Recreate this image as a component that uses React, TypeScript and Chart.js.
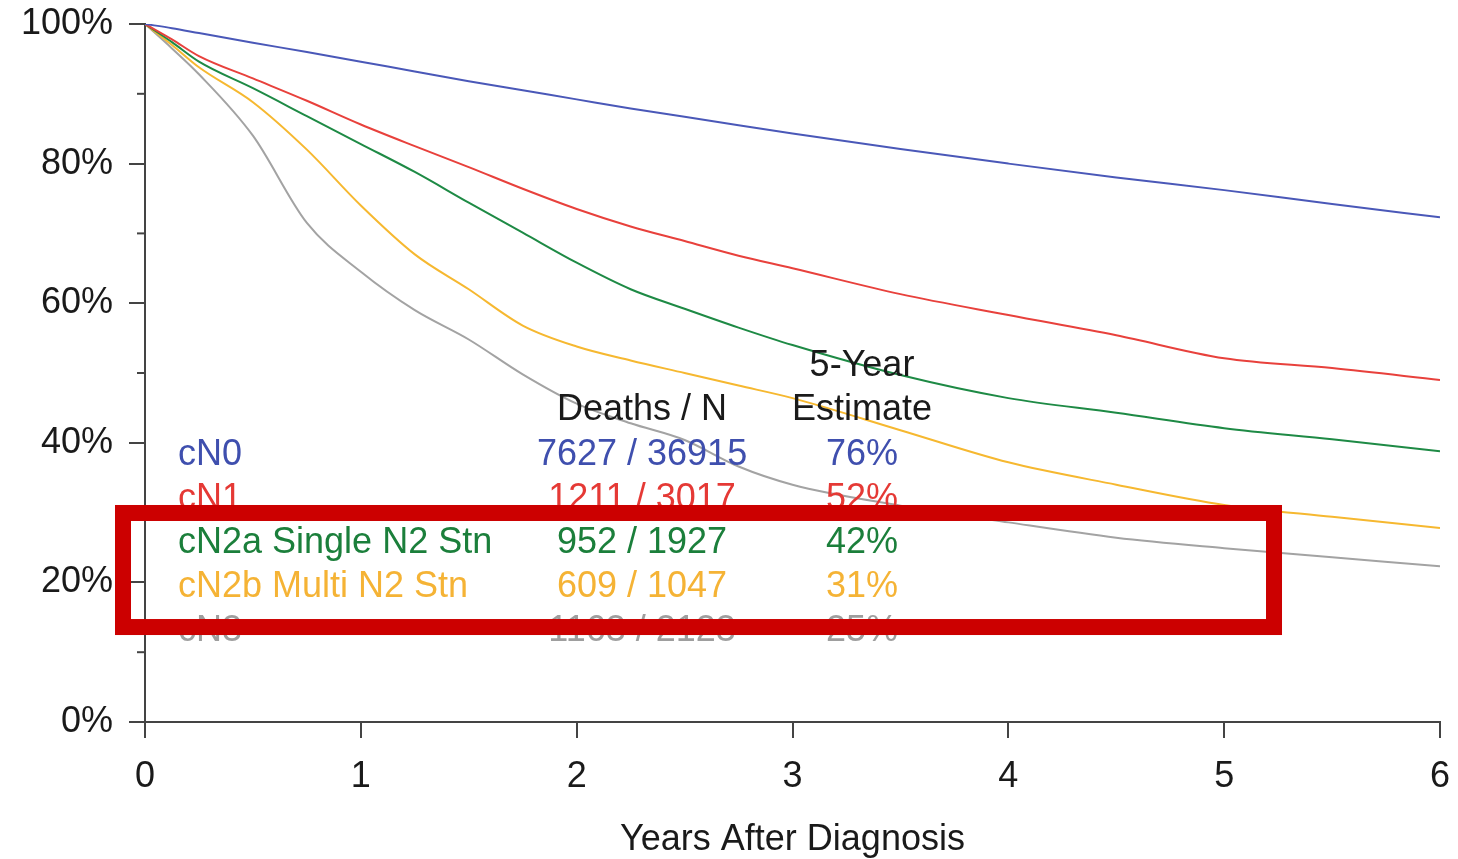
import { useEffect, useRef } from 'react';
import { Chart, registerables } from 'chart.js';

Chart.register(...registerables);

const years = [0, 0.125, 0.25, 0.5, 0.75, 1, 1.25, 1.5, 1.75, 2, 2.25, 2.5, 2.75, 3, 3.5, 4, 4.5, 5, 5.5, 6];
const cN0 = [100, 99.4, 98.7, 97.3, 96.0, 94.6, 93.2, 91.8, 90.5, 89.2, 87.9, 86.7, 85.5, 84.3, 82.1, 80.0, 78.0, 76.2, 74.2, 72.3];
const cN1 = [100, 97.8, 95.4, 92.2, 89.0, 85.6, 82.5, 79.5, 76.4, 73.5, 71.0, 68.9, 66.8, 65.0, 61.3, 58.3, 55.4, 52.1, 50.7, 49.0];
const cN2a = [100, 97.4, 94.6, 90.8, 86.8, 82.8, 78.8, 74.4, 70.1, 65.8, 62.0, 59.2, 56.5, 54.0, 49.7, 46.4, 44.3, 42.1, 40.5, 38.8];
const cN2b = [100, 97.0, 93.8, 88.8, 82.0, 74.0, 67.0, 62.0, 56.8, 53.8, 51.8, 50.0, 48.2, 46.4, 41.8, 37.2, 34.0, 31.1, 29.4, 27.8];
const cN3 = [100, 96.5, 92.8, 84.0, 71.5, 64.5, 59.0, 54.8, 49.8, 45.6, 42.8, 40.4, 36.6, 34.0, 31.0, 28.6, 26.4, 24.9, 23.6, 22.3];

const groupLabels = ['cN0', 'cN1', 'cN2a Single N2 Stn', 'cN2b Multi N2 Stn', 'cN3'];
const deathsN = ['7627 / 36915', '1211 / 3017', '952 / 1927', '609 / 1047', '1163 / 2123'];
const fiveYear = ['76%', '52%', '42%', '31%', '25%'];
const lineColors = ['#4a58b8', '#e8413c', '#1e8a45', '#f6b830', '#a3a3a3'];
const textColors = ['#3f4fae', '#e53935', '#1b7f3b', '#f5b335', '#9e9e9e'];

const yTickValues = [0, 20, 40, 60, 80, 100];
const yMinorTickValues = [10, 30, 50, 70, 90];
const xTickValues = [0, 1, 2, 3, 4, 5, 6];

const FONT = '"Liberation Sans", Arial, Helvetica, sans-serif';

const tablePlugin = {
  id: 'kmTable',
  afterDraw(chart: any) {
    const { ctx, scales } = chart;
    const xs = scales.x;
    const ys = scales.y;
    const yAxisX = chart.chartArea.left;

    // minor y ticks
    ctx.save();
    ctx.strokeStyle = '#444';
    ctx.lineWidth = 2;
    yMinorTickValues.forEach((v) => {
      const py = ys.getPixelForValue(v);
      ctx.beginPath();
      ctx.moveTo(yAxisX - 8, py);
      ctx.lineTo(yAxisX, py);
      ctx.stroke();
    });
    ctx.restore();

    // table text
    ctx.save();
    ctx.font = `36px ${FONT}`;
    ctx.textBaseline = 'middle';
    const labelX = xs.getPixelForValue(0.153);
    const deathsX = xs.getPixelForValue(2.303);
    const estX = xs.getPixelForValue(3.322);
    ctx.fillStyle = '#1a1a1a';
    ctx.textAlign = 'center';
    ctx.fillText('5-Year', estX, ys.getPixelForValue(51.0));
    ctx.fillText('Estimate', estX, ys.getPixelForValue(44.7));
    ctx.fillText('Deaths / N', deathsX, ys.getPixelForValue(44.7));
    groupLabels.forEach((lab, i) => {
      const py = ys.getPixelForValue(38.25 - i * 6.3);
      ctx.fillStyle = textColors[i];
      ctx.textAlign = 'left';
      ctx.fillText(lab, labelX, py);
      ctx.textAlign = 'center';
      ctx.fillText(deathsN[i], deathsX, py);
      ctx.fillText(fiveYear[i], estX, py);
    });
    ctx.restore();

    // red highlight box
    ctx.save();
    const lw = 16;
    const l = xs.getPixelForValue(-0.139);
    const r = xs.getPixelForValue(5.268);
    const t = ys.getPixelForValue(31.09);
    const b = ys.getPixelForValue(12.46);
    ctx.strokeStyle = '#cc0000';
    ctx.lineWidth = lw;
    ctx.strokeRect(l + lw / 2, t + lw / 2, r - l - lw, b - t - lw);
    ctx.restore();
  },
};

export default function App() {
  const ref = useRef<HTMLCanvasElement | null>(null);
  useEffect(() => {
    if (!ref.current) return;
    const mk = (label: string, vals: number[], i: number) => ({
      label,
      data: years.map((x, k) => ({ x, y: vals[k] })),
      borderColor: lineColors[i],
      backgroundColor: lineColors[i],
      borderWidth: 2,
      pointRadius: 0,
      cubicInterpolationMode: 'monotone' as const,
      fill: false,
    });
    const chart = new Chart(ref.current, {
      type: 'line',
      data: {
        datasets: [
          mk('cN0', cN0, 0),
          mk('cN1', cN1, 1),
          mk('cN2a', cN2a, 2),
          mk('cN2b', cN2b, 3),
          mk('cN3', cN3, 4),
        ],
      },
      options: {
        animation: false,
        responsive: false,
        layout: { padding: { top: 24, right: 18, left: 0, bottom: 0 } },
        plugins: { legend: { display: false }, tooltip: { enabled: false } },
        scales: {
          x: {
            type: 'linear',
            min: 0,
            max: 6,
            afterFit: (s: any) => {
              s.height = 137;
              s.paddingLeft = 0;
              s.paddingRight = 0;
            },
            afterBuildTicks: (s: any) => { s.ticks = xTickValues.map((v) => ({ value: v })); },
            border: { display: true, color: '#444', width: 2 },
            grid: { drawOnChartArea: false, drawTicks: true, tickLength: 16, color: '#444', lineWidth: 2 },
            ticks: { color: '#1a1a1a', font: { size: 36, family: FONT }, padding: 17, maxRotation: 0 },
            title: {
              display: true,
              text: 'Years After Diagnosis',
              color: '#1a1a1a',
              font: { size: 36, family: FONT, lineHeight: 1 },
              padding: { top: 0, bottom: 1 },
            },
          },
          y: {
            type: 'linear',
            min: 0,
            max: 100,
            afterFit: (s: any) => {
              s.width = 145;
              s.paddingTop = 0;
              s.paddingBottom = 0;
            },
            afterBuildTicks: (s: any) => { s.ticks = yTickValues.map((v) => ({ value: v })); },
            border: { display: true, color: '#444', width: 2 },
            grid: { drawOnChartArea: false, drawTicks: true, tickLength: 16, color: '#444', lineWidth: 2 },
            ticks: {
              color: '#1a1a1a',
              font: { size: 36, family: FONT },
              padding: 16,
              callback: (v: any) => `${v}%`,
            },
          },
        },
      },
      plugins: [tablePlugin],
    });
    return () => chart.destroy();
  }, []);
  return (
    <div style={{ position: 'absolute', left: 0, top: 0, width: 1458, height: 859, background: '#fff' }}>
      <canvas ref={ref} width={1458} height={859} />
    </div>
  );
}
